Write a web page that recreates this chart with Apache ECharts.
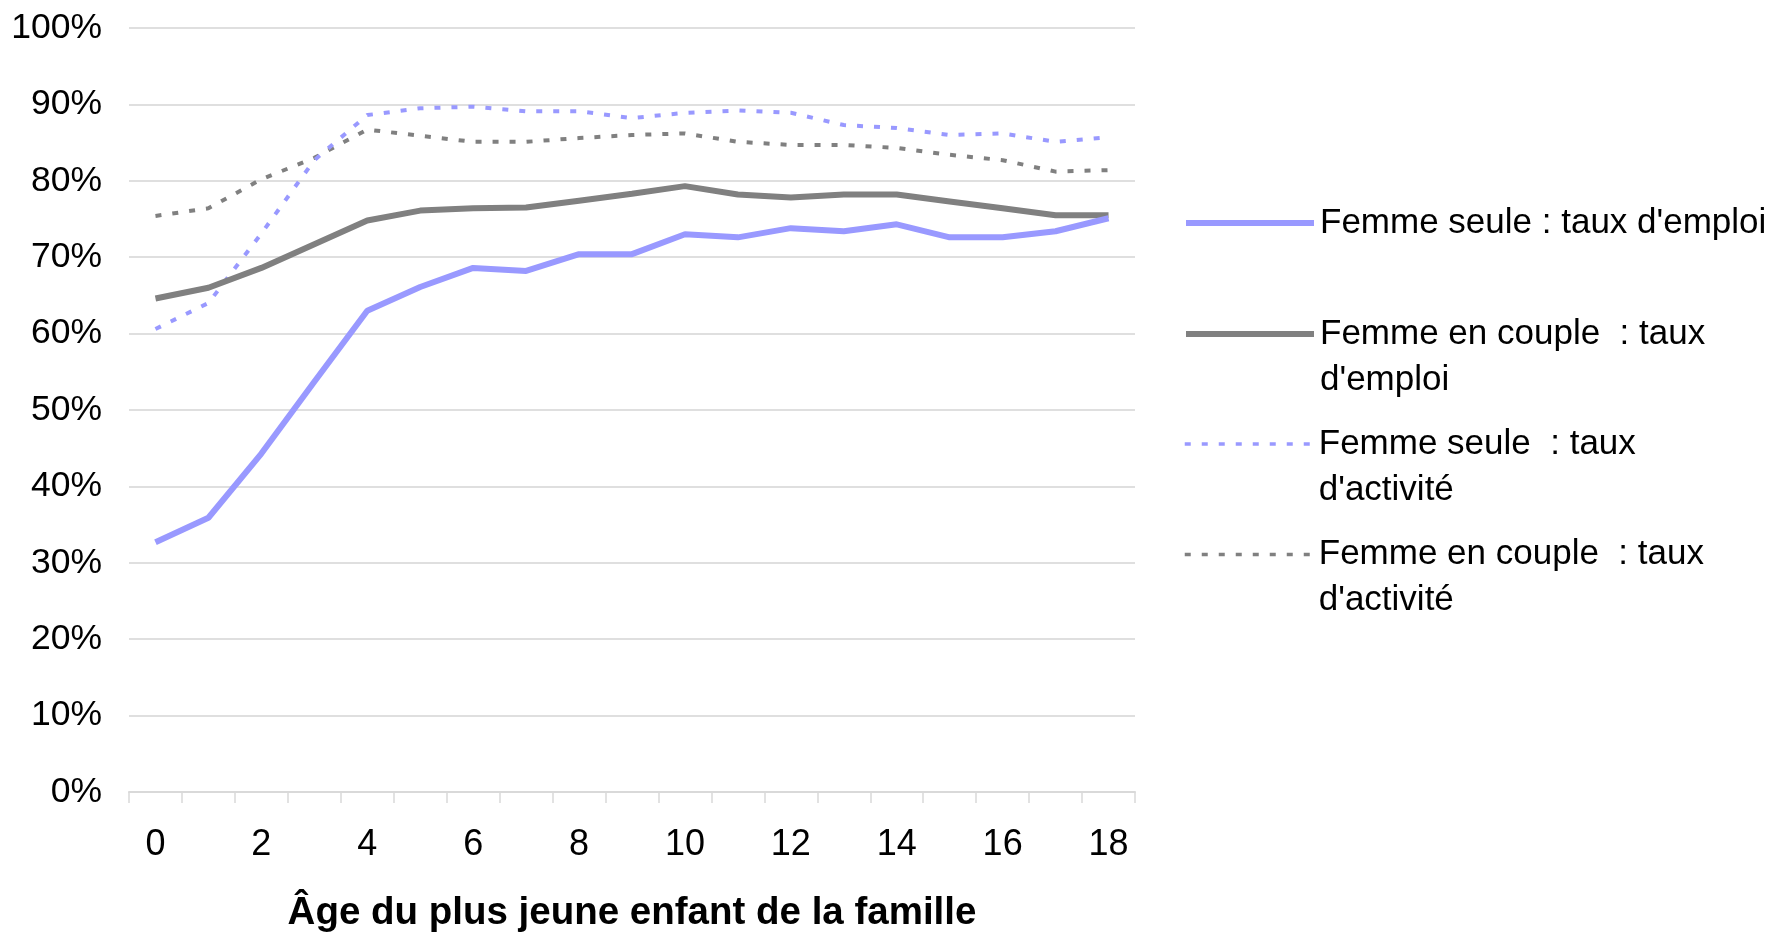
<!DOCTYPE html>
<html>
<head>
<meta charset="utf-8">
<script src="https://cdn.jsdelivr.net/npm/echarts@6/dist/echarts.min.js"></script>
<style>
html,body{margin:0;padding:0;background:#fff;}
#chart{width:1771px;height:936px;}
</style>
</head>
<body>
<div id="chart"></div>
<script>
const categories = ['0','1','2','3','4','5','6','7','8','9','10','11','12','13','14','15','16','17','18'];
const seuleEmploi   = [32.7, 35.9, 44.3, 53.7, 63.0, 66.1, 68.6, 68.2, 70.4, 70.4, 73.0, 72.6, 73.8, 73.4, 74.3, 72.6, 72.6, 73.4, 75.1];
const coupleEmploi  = [64.6, 66.0, 68.6, 71.7, 74.8, 76.1, 76.4, 76.5, 77.4, 78.3, 79.3, 78.2, 77.8, 78.2, 78.2, 77.3, 76.4, 75.5, 75.5];
const seuleActivite = [60.6, 64.0, 73.1, 82.7, 88.6, 89.5, 89.7, 89.1, 89.1, 88.2, 88.9, 89.2, 88.9, 87.3, 86.9, 86.0, 86.2, 85.1, 85.7];
const coupleActivite= [75.4, 76.4, 80.2, 83.0, 86.7, 85.9, 85.1, 85.1, 85.6, 86.0, 86.2, 85.1, 84.7, 84.7, 84.3, 83.4, 82.7, 81.2, 81.4];
const yTicks = [0, 10, 20, 30, 40, 50, 60, 70, 80, 90, 100];

const names = [
  "Femme seule : taux d'emploi",
  "Femme en couple  : taux d'emploi",
  "Femme seule  : taux d'activité",
  "Femme en couple  : taux d'activité"
];
const legendTexts = [
  "Femme seule : taux d'emploi",
  "\nFemme en couple  : taux\nd'emploi",
  "\nFemme seule  : taux\nd'activité",
  "\nFemme en couple  : taux\nd'activité"
];
const LAV = '#9999FF', GREY = '#808080';
const FONT = 'Liberation Sans, Arial, sans-serif';

const chart = echarts.init(document.getElementById('chart'), null, {renderer: 'canvas'});

function legendFor(i, top, width) {
  return {
    data: [names[i]],
    left: 1183,
    top: top,
    orient: 'vertical',
    itemWidth: 128,
    itemHeight: 14,
    itemGap: 0,
    padding: 0,
    selectedMode: false,
    formatter: () => legendTexts[i],
    itemStyle: {opacity: 0},
    lineStyle: {width: width},
    textStyle: {fontFamily: FONT, fontSize: 35, color: '#000', lineHeight: 46, padding: [0, 0, 0, 1]}
  };
}

const dashed = [6, 11];

chart.setOption({
  animation: false,
  backgroundColor: '#fff',
  grid: {left: 129, right: 636, top: 28, bottom: 144, containLabel: false, outerBoundsMode: 'none'},
  legend: [
    legendFor(0, 200, 6),
    legendFor(1, 265, 6),
    legendFor(2, 375, 3.5),
    legendFor(3, 485.5, 3.5)
  ],
  xAxis: {
    type: 'category',
    data: categories,
    boundaryGap: true,
    name: 'Âge du plus jeune enfant de la famille',
    nameLocation: 'middle',
    nameGap: 102,
    nameTextStyle: {fontFamily: FONT, fontSize: 38.5, fontWeight: 'bold', color: '#000', verticalAlign: 'top'},
    axisLine: {show: true, lineStyle: {color: '#d9d9d9', width: 2}},
    axisTick: {show: true, interval: 0, length: 11, lineStyle: {color: '#d9d9d9', width: 1.5}},
    axisLabel: {interval: 1, margin: 35, fontFamily: FONT, fontSize: 36, color: '#000'},
    splitLine: {show: false}
  },
  yAxis: {
    type: 'value',
    min: 0, max: 100, interval: 10,
    axisLine: {show: false},
    axisTick: {show: false},
    axisLabel: {margin: 27, fontFamily: FONT, fontSize: 35.5, color: '#000',
      formatter: v => yTicks.indexOf(v) >= 0 ? v + '%' : ''},
    splitLine: {show: true, lineStyle: {color: '#d4d4d4', width: 1.5}}
  },
  series: [
    {name: names[3], type: 'line', data: coupleActivite, symbol: 'none', showSymbol: false,
     lineStyle: {color: GREY, width: 4, type: dashed}, itemStyle: {color: GREY}, z: 2},
    {name: names[2], type: 'line', data: seuleActivite, symbol: 'none', showSymbol: false,
     lineStyle: {color: LAV, width: 4, type: dashed}, itemStyle: {color: LAV}, z: 3},
    {name: names[1], type: 'line', data: coupleEmploi, symbol: 'none', showSymbol: false,
     lineStyle: {color: GREY, width: 6}, itemStyle: {color: GREY}, z: 4},
    {name: names[0], type: 'line', data: seuleEmploi, symbol: 'none', showSymbol: false,
     lineStyle: {color: LAV, width: 6}, itemStyle: {color: LAV}, z: 5}
  ]
});
</script>
</body>
</html>
